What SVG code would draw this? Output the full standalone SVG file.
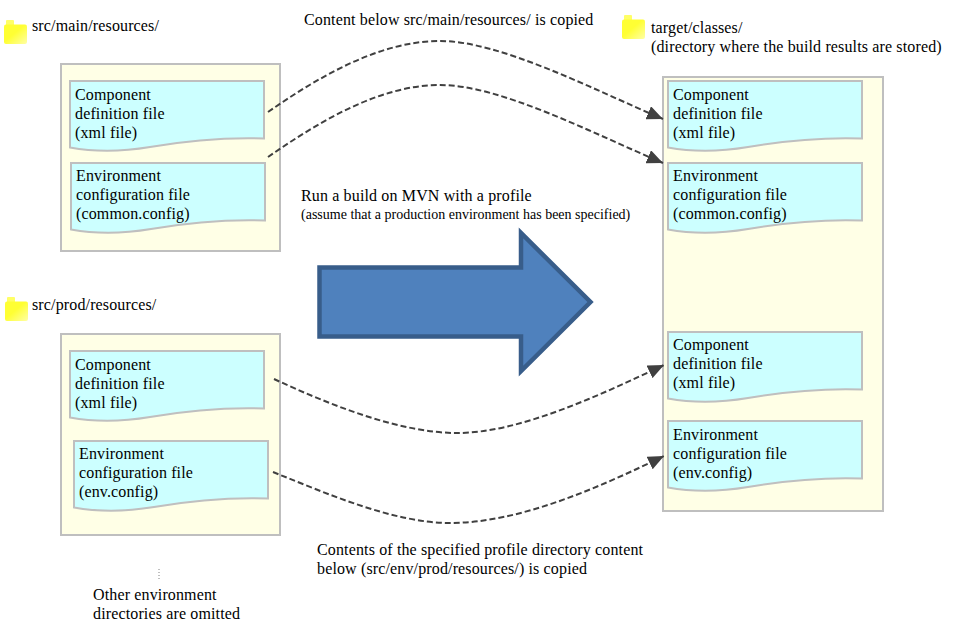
<svg xmlns="http://www.w3.org/2000/svg" width="953" height="631" viewBox="0 0 953 631">
<style>
text{font-family:"Liberation Serif","Times New Roman",serif;font-size:16px;letter-spacing:.14px;fill:#000;transform:translateY(.4px)}
.small{font-size:14px;letter-spacing:0}
.box{fill:#ffffe6;stroke:#bfbfbf;stroke-width:2}
.doc{fill:#ccffff;stroke:#bfbfbf;stroke-width:2}
.folder{fill:url(#fy)}
.conn{fill:none;stroke:#404040;stroke-width:2;stroke-dasharray:6 3;marker-end:url(#ah)}
</style>
<defs>
<linearGradient id="fy" x1="0" y1="0" x2="1" y2="1"><stop offset="0" stop-color="#ffff33"/><stop offset="0.45" stop-color="#ffff33"/><stop offset="1" stop-color="#ffffa6"/></linearGradient>
<marker id="ah" markerUnits="userSpaceOnUse" markerWidth="17" markerHeight="14" refX="16" refY="7" orient="auto"><path d="M0 0L16 7L0 14Z" fill="#404040"/></marker>
<path id="d" class="doc" d="M0 0H194V57.500C150 56 115 60 80 66C50 71 25 71 0 66.500Z"/>
<g id="f"><rect x="2" y="0" width="8" height="7" rx="1" fill="#ffff66"/><rect x="0" y="4.500" width="23" height="19.500" rx="2" class="folder"/></g>
</defs>
<g id="src-main"><use href="#f" x="4" y="20"/><text x="32" y="31">src/main/resources/</text></g>
<g id="box-main"><rect class="box" x="61" y="64" width="219" height="187"/></g>
<g id="main-component"><use href="#d" x="70" y="81"/><text x="75" y="100">Component</text><text x="75" y="119">definition file</text><text x="75" y="138">(xml file)</text></g>
<g id="main-env"><use href="#d" x="71" y="163"/><text x="76" y="181">Environment</text><text x="76" y="200">configuration file</text><text x="76" y="219">(common.config)</text></g>
<g id="src-prod"><use href="#f" x="5" y="297"/><text x="32" y="310">src/prod/resources/</text></g>
<g id="box-prod"><rect class="box" x="61" y="334" width="219" height="201"/></g>
<g id="prod-component"><use href="#d" x="70" y="351"/><text x="75" y="370">Component</text><text x="75" y="389">definition file</text><text x="75" y="408">(xml file)</text></g>
<g id="prod-env"><use href="#d" x="74" y="441"/><text x="79" y="459">Environment</text><text x="79" y="478">configuration file</text><text x="79" y="497">(env.config)</text></g>
<g id="omitted"><path d="M159 569V580" stroke="#808080" stroke-width="1" stroke-dasharray="1 2" fill="none"/><text x="93" y="600">Other environment</text><text x="93" y="619">directories are omitted</text></g>
<g id="target"><use href="#f" x="622" y="15"/><text x="651" y="33">target/classes/</text><text x="651" y="52">(directory where the build results are stored)</text></g>
<g id="box-target"><rect class="box" x="663" y="77" width="220" height="434"/></g>
<g id="t-component"><use href="#d" x="668" y="81"/><text x="673" y="100">Component</text><text x="673" y="119">definition file</text><text x="673" y="138">(xml file)</text></g>
<g id="t-env"><use href="#d" x="668" y="163"/><text x="673" y="181">Environment</text><text x="673" y="200">configuration file</text><text x="673" y="219">(common.config)</text></g>
<g id="t-component2"><use href="#d" x="668" y="332"/><text x="673" y="350">Component</text><text x="673" y="369">definition file</text><text x="673" y="388">(xml file)</text></g>
<g id="t-env2"><use href="#d" x="668" y="421"/><text x="673" y="440">Environment</text><text x="673" y="459">configuration file</text><text x="673" y="478">(env.config)</text></g>
<g id="big-arrow"><path d="M319.500 267.500H521V233L590.500 302L521 371V336.500H319.500Z" fill="#4f81bd" stroke="#385d8a" stroke-width="4.500"/></g>
<g id="labels"><text x="304" y="25">Content below src/main/resources/ is copied</text>
<text x="301" y="201">Run a build on MVN with a profile</text><text class="small" x="301" y="219">(assume that a production environment has been specified)</text>
<text x="317" y="555">Contents of the specified profile directory content</text><text x="317" y="574">below (src/env/prod/resources/) is copied</text></g>
<g id="connectors">
<path class="conn" d="M268 112C320 76 380 41 440 41C500 41 590 88 663 119"/>
<path class="conn" d="M268 157C320 121 380 85 440 85C500 85 590 132 663 163"/>
<path class="conn" d="M274 379C330 405 400 433 457 433C520 433 600 395 664 365"/>
<path class="conn" d="M273 472C330 495 395 523 450 523C520 523 600 487 664 456"/>
</g>
</svg>
